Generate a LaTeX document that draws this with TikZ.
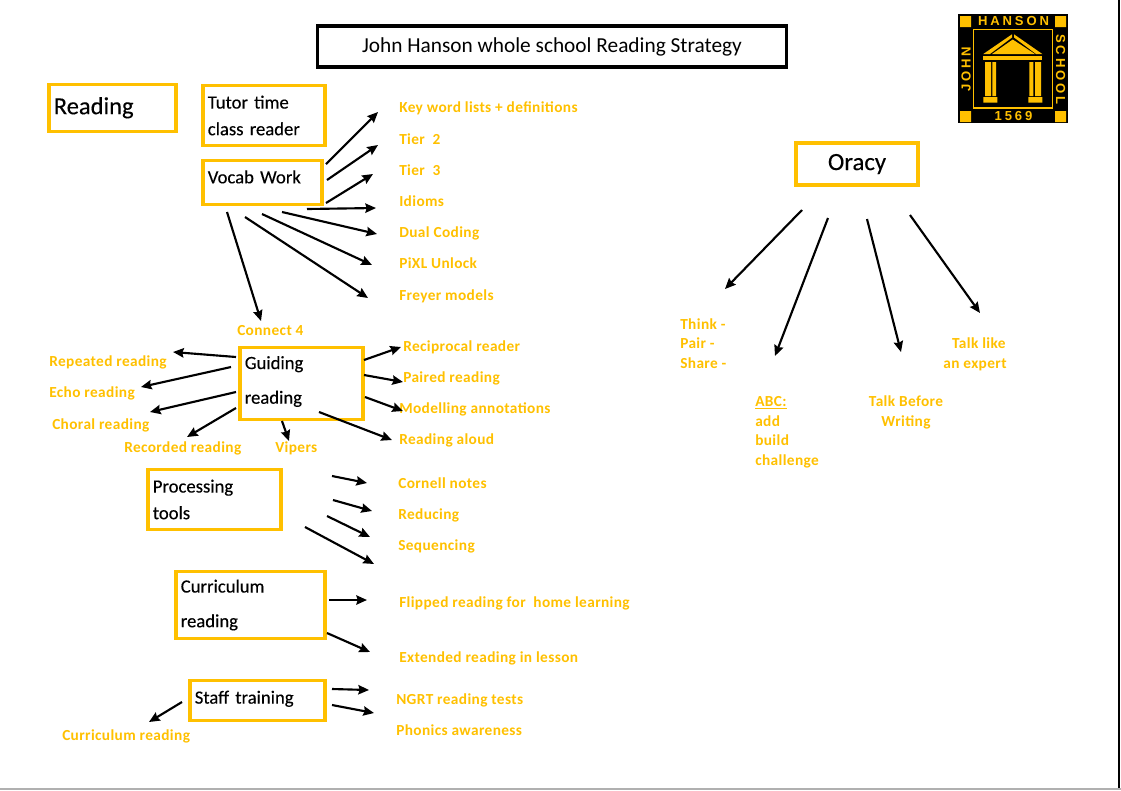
\documentclass[tikz,border=0pt]{standalone}
\usepackage{fontspec}
\setmainfont{Carlito}
\newfontfamily\logofont[LetterSpace=22]{Liberation Sans}
\newfontfamily\labelfont[LetterSpace=2.5]{Carlito}
\newfontfamily\bodyfont[BoldFont=Carlito,BoldFeatures={FakeBold=0.25}]{Carlito}
\usetikzlibrary{arrows.meta}
\definecolor{gold}{HTML}{FFC000}
\definecolor{edgegray}{HTML}{B0B0B0}
\tikzset{
  x=0.75pt,y=-0.75pt,
  bx/.style n args={2}{draw=gold,line width=2.6pt,rectangle,inner xsep=3.6pt,inner ysep=0pt,
    minimum width=#1*0.75pt,minimum height=#2*0.75pt,text width=(#1-9.6)*0.75pt,align=left,
    font=\fontsize{14}{20}\selectfont\bodyfont\bfseries,text=black},
  lab/.style={anchor=west,inner sep=0pt,text=gold,text height=9.75pt,text depth=2.25pt,
    font=\fontsize{11.5}{14.6}\selectfont\labelfont\bfseries,align=left},
  labc/.style={lab,anchor=center,align=center},
  arr/.style={draw=black,line width=1.6pt,-{Stealth[length=8pt,width=7pt,inset=1pt]}},
  logotxt/.style={inner sep=0pt,text=gold,font=\fontsize{9.8}{10}\logofont\bfseries},
}
\newcommand{\arrowlink}[5]{\coordinate (#1s) at (#2,#3);\coordinate (#1e) at (#4,#5);\draw[arr] (#1s) -- (#1e);}
\begin{document}
\begin{tikzpicture}
\useasboundingbox (0,0) rectangle (1121,790);
% page edges
\fill[black] (1118,0) rectangle (1120,788);
\fill[edgegray] (0,788) rectangle (1121,790);
% title
\node[draw=black,line width=2.6pt,minimum width=469*0.75pt,minimum height=41*0.75pt,inner sep=0pt,font=\fontsize{16}{18}\selectfont] (title) at (552,46.5) {\raisebox{1.5pt}{John Hanson whole school Reading Strategy}};
% boxes
\node[bx={127}{47},font=\fontsize{18.4}{20}\selectfont\bodyfont\bfseries] (reading) at (112.5,108) {\raisebox{3.5pt}{Reading}};
\node[bx={122}{60}] (tutor) at (264,115.5) {Tutor time\\class reader};
\node[bx={119}{44}] (vocab) at (262.5,182.5) {\raisebox{8.5pt}{Vocab Work}};
\node[bx={123}{72}] (guiding) at (301.5,383.5) {Guiding\\[6pt]reading\vspace{3pt}};
\node[bx={133}{60}] (processing) at (214.5,499.5) {Processing\\tools};
\node[bx={149}{67}] (curriculum) at (250.5,605) {\raisebox{-0.75pt}{Curriculum}\\[6pt]\raisebox{-0.75pt}{reading}};
\node[bx={135}{40}] (staff) at (257.5,700.5) {\raisebox{5pt}{Staff training}};
\node[bx={122}{42},font=\fontsize{18.6}{20}\selectfont\bodyfont\bfseries,align=center] (oracy) at (857,164) {Oracy};
% labels
\node[lab] (l1) at (399,107) {Key word lists + definitions};
\node[lab] (l2) at (399,139) {Tier\ \ 2};
\node[lab] (l3) at (399,170) {Tier\ \ 3};
\node[lab] (l4) at (399,201) {Idioms};
\node[lab] (l5) at (399,232) {Dual Coding};
\node[lab] (l6) at (399,263) {PiXL Unlock};
\node[lab] (l7) at (399,295) {Freyer models};
\node[lab] (l8) at (237,330) {Connect 4};
\node[lab] (g1) at (49,361) {Repeated reading};
\node[lab] (g2) at (49,392) {Echo reading};
\node[lab] (g3) at (52,424) {Choral reading};
\node[lab] (g4) at (124,447) {Recorded reading};
\node[lab] (g5) at (275,447) {Vipers};
\node[lab] (g6) at (403,346) {Reciprocal reader};
\node[lab] (g7) at (403,377) {Paired reading};
\node[lab] (g8) at (399,408) {Modelling annotations};
\node[lab] (g9) at (399,439) {Reading aloud};
\node[lab] (p1) at (398,483) {Cornell notes};
\node[lab] (p2) at (398,514) {Reducing};
\node[lab] (p3) at (398,545) {Sequencing};
\node[lab] (c1) at (399,602) {Flipped reading for\ \ home learning};
\node[lab] (c2) at (399,657) {Extended reading in lesson};
\node[lab] (s1) at (396,699) {NGRT reading tests};
\node[lab] (s2) at (396,730) {Phonics awareness};
\node[lab] (s3) at (62,735) {Curriculum reading};
\node[lab] (o1) at (680,363) {Think -\\Pair -\\Share -};
\node[lab] (o2) at (755,460) {\underline{ABC:}\\add\\build\\challenge};
\node[labc] (o3) at (906,421) {Talk Before\\Writing};
\node[labc] (o4) at (975,363) {\ \ Talk like\\an expert};
% arrows
\arrowlink{a1}{326}{164}{378}{112}
\arrowlink{a2}{327}{180}{378}{145}
\arrowlink{a3}{326}{203}{373}{174}
\arrowlink{a4}{307}{209}{376}{208}
\arrowlink{a5}{282}{212}{377}{234}
\arrowlink{a6}{262}{214}{372}{265}
\arrowlink{a7}{245}{217}{368}{298}
\arrowlink{a8}{227}{212}{261}{321}
\arrowlink{b1}{236}{357}{173}{352}
\arrowlink{b2}{231}{367}{141}{387}
\arrowlink{b3}{236}{392}{150}{412}
\arrowlink{b4}{236}{408}{187}{437}
\arrowlink{b5}{282}{421}{289}{441}
\arrowlink{b6}{319}{412}{392}{440}
\arrowlink{b7}{364}{360}{401}{347}
\arrowlink{b8}{364}{375}{403}{382}
\arrowlink{b9}{365}{397}{403}{411}
\arrowlink{d1}{332}{476}{367}{483}
\arrowlink{d2}{333}{500}{372}{511}
\arrowlink{d3}{327}{516}{370}{537}
\arrowlink{d4}{305}{527}{374}{564}
\arrowlink{e1}{329}{600}{367}{600}
\arrowlink{e2}{327}{633}{370}{652}
\arrowlink{f1}{332}{689}{369}{690}
\arrowlink{f2}{332}{705}{374}{713}
\arrowlink{f3}{182}{702}{149}{722}
\arrowlink{h1}{802}{210}{725}{289}
\arrowlink{h2}{828}{218}{775}{356}
\arrowlink{h3}{867}{219}{901}{352}
\arrowlink{h4}{910}{215}{980}{313}
% logo
\fill[black] (958,14) rectangle (1068,123);
\fill[gold] (960,16) rectangle (971,27) (1055,16) rectangle (1066,27)
  (960,111) rectangle (971,122) (1055,111) rectangle (1066,122);
\draw[gold,line width=1.3pt] (973.5,29.5) rectangle (1052.5,108);
\fill[gold] (983.3,54) -- (1012,34.3) -- (1012,37.5) -- (990,54) -- cycle;
\fill[gold] (1014,34.3) -- (1042.3,54) -- (1036,54) -- (1014,37.5) -- cycle;
\fill[gold] (992,54) -- (1012.7,39.5) -- (1035,54) -- cycle;
\fill[gold] (983.3,55.7) rectangle (1042.3,60);
\fill[gold] (985,62) rectangle (991,96) (992.3,62) rectangle (996,96)
  (1029.3,62) rectangle (1033.3,96) (1035,62) rectangle (1041,96);
\fill[gold] (983.3,97) rectangle (997.3,102.7) (1028.3,97) rectangle (1042.3,102.7);
\node[logotxt] (lhanson) at (1013.5,21) {HANSON};
\node[logotxt] (l1569) at (1013.5,116) {1569};
\node[logotxt,rotate=90] (ljohn) at (966,69.5) {JOHN};
\node[logotxt,rotate=-90] (lschool) at (1060.5,69.5) {SCHOOL};
\end{tikzpicture}
\end{document}
